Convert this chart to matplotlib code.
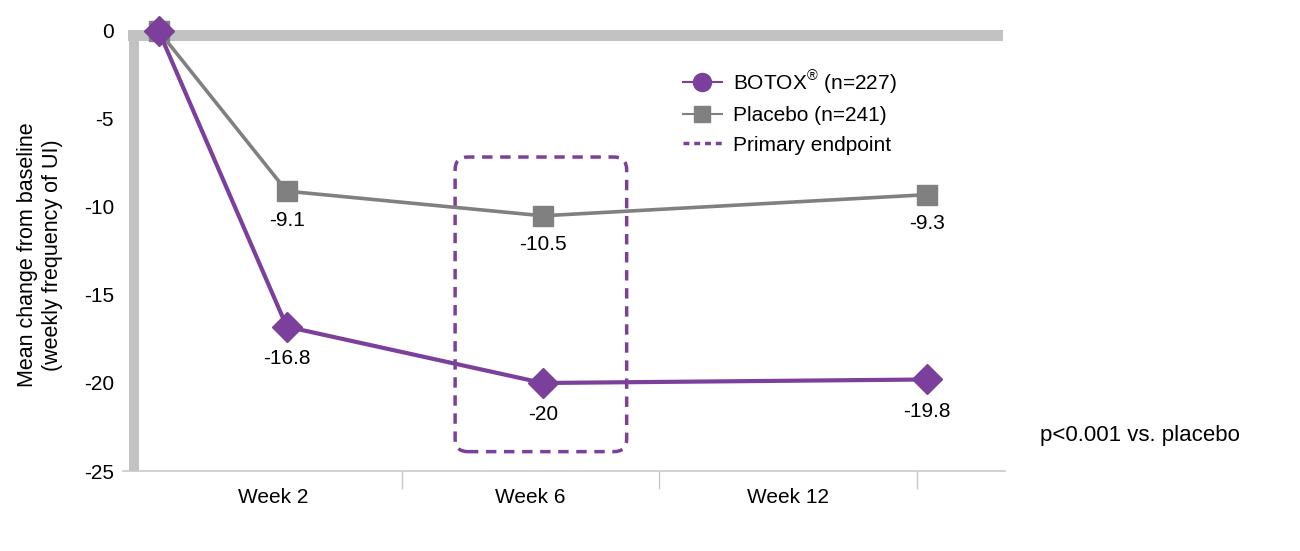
import numpy as np
import matplotlib.pyplot as plt
from matplotlib.lines import Line2D
from matplotlib.patches import FancyBboxPatch

plt.rcParams['font.family'] = ['Liberation Sans', 'DejaVu Sans']
plt.rcParams['mathtext.fontset'] = 'custom'
plt.rcParams['mathtext.rm'] = 'Liberation Sans'

# 数据 (周数 / 相对基线的平均变化)
weeks = [0, 2, 6, 12]
botox = [0.0, -16.8, -20.0, -19.8]
placebo = [0.0, -9.1, -10.5, -9.3]
week_labels = ['Week 2', 'Week 6', 'Week 12']
y_ticks = [0, -5, -10, -15, -20, -25]

PURPLE = '#7b3f9c'
GRAY = '#808080'
BAR = '#c2c2c2'
FS = 15

fig = plt.figure(figsize=(13, 5.51), dpi=100)
ax = fig.add_axes([128 / 1300, 1 - 471 / 551, 877 / 1300, 440 / 551])
ax.set_xlim(-0.48, 13.22)
ax.set_ylim(-25, 0)
for s in ax.spines.values():
    s.set_visible(False)

# 粗灰色坐标框
ax.axhspan(-0.55, 0.08, xmin=0, xmax=0.998, color=BAR, lw=0, clip_on=False, zorder=1)
ax.axvspan(-0.47, -0.31, ymin=0, ymax=1.003, color=BAR, lw=0, clip_on=False, zorder=1)
ax.axhline(-25, xmin=-0.006, xmax=1.0, color='#c8c8c8', lw=1.2, clip_on=False, zorder=1)

# 主要终点虚线框
box = FancyBboxPatch((4.63, -23.9), 7.31 - 4.63, 23.9 - 7.16,
                     boxstyle='round,pad=0,rounding_size=0.2',
                     mutation_aspect=64 / 17.6,
                     fill=False, ec=PURPLE, lw=2.5, ls=(0, (3, 2.2)), zorder=2)
ax.add_patch(box)

ax.plot(weeks, placebo, color=GRAY, lw=2.6, marker='s', ms=14, mfc=GRAY, mec=GRAY,
        zorder=3, clip_on=False)
ax.plot(weeks, botox, color=PURPLE, lw=3.0, marker='D', ms=15.5, mfc=PURPLE, mec=PURPLE,
        zorder=4, clip_on=False)

for x, y in zip(weeks[1:], placebo[1:]):
    ax.annotate(f'{y:g}', (x, y), xytext=(0, -21), textcoords='offset points',
                ha='center', va='center', fontsize=FS)
for x, y in zip(weeks[1:], botox[1:]):
    ax.annotate(f'{y:g}', (x, y), xytext=(0, -23), textcoords='offset points',
                ha='center', va='center', fontsize=FS)

# x 轴分段标签
band_edges = np.linspace(-0.22, 11.84, 4)
centers = (band_edges[:-1] + band_edges[1:]) / 2
ax.set_xticks(centers)
ax.set_xticklabels(week_labels, fontsize=FS)
ax.set_xticks(band_edges[1:], minor=True)
ax.tick_params(axis='x', which='major', length=0, pad=12)
ax.tick_params(axis='x', which='minor', length=13, width=1, color='#c8c8c8')

ax.set_yticks(y_ticks)
ax.set_yticklabels([str(v) for v in y_ticks], fontsize=FS)
ax.set_yticks([0, -25], minor=True)
ax.tick_params(axis='y', which='major', length=0, pad=10)
ax.tick_params(axis='y', which='minor', length=7, width=1, color='#c8c8c8')

fig.text(40 / 1300, 1 - 255 / 551, 'Mean change from baseline\n(weekly frequency of UI)',
         rotation=90, ha='center', va='center', fontsize=15.5, linespacing=1.3)

handles = [
    Line2D([], [], color=PURPLE, lw=1.5, marker='o', ms=13),
    Line2D([], [], color=GRAY, lw=1.5, marker='s', ms=12),
    Line2D([], [], color=PURPLE, lw=2.5, ls=(0, (1.7, 1.4))),
]
labels = [r'BOTOX$^{\circledR}$ (n=227)', 'Placebo (n=241)', 'Primary endpoint']
fig.legend(handles, labels, loc='upper left', bbox_to_anchor=(683 / 1300, 1 - 68 / 551),
           frameon=False, fontsize=FS, handlelength=1.87, handletextpad=0.53,
           labelspacing=0.5, borderpad=0, borderaxespad=0)

fig.text(1040 / 1300, 1 - 435 / 551, 'p<0.001 vs. placebo', ha='left', va='center', fontsize=16)

fig.savefig('out.png', dpi=100)
